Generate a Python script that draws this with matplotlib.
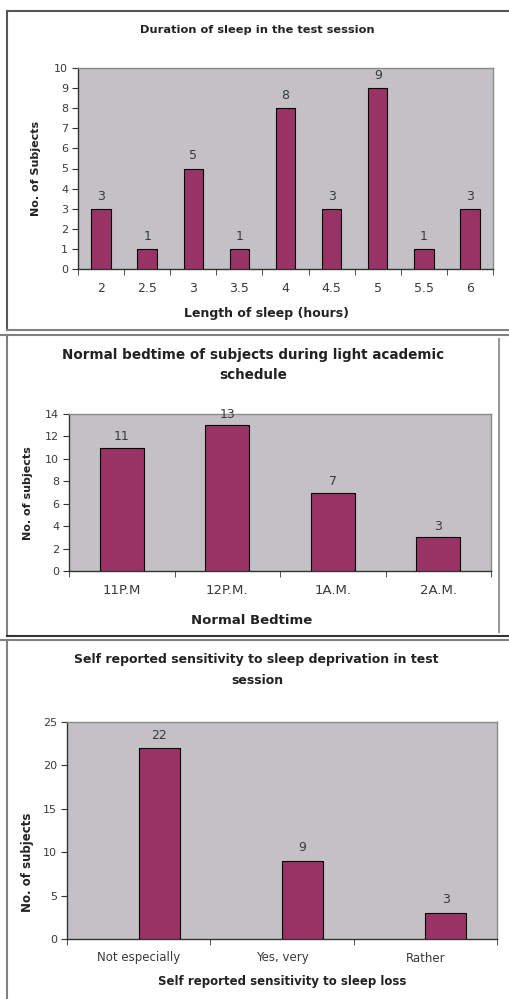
import matplotlib
matplotlib.use('agg')
import matplotlib.pyplot as plt
from matplotlib.lines import Line2D
import numpy as np

plt.rcParams['font.family'] = ['DejaVu Sans']

W, H = 509, 999

# chart data
sleep_hours = ["2", "2.5", "3", "3.5", "4", "4.5", "5", "5.5", "6"]
sleep_counts = [3, 1, 5, 1, 8, 3, 9, 1, 3]

bedtimes = ["11P.M", "12P.M.", "1A.M.", "2A.M."]
bedtime_counts = [11, 13, 7, 3]

sensitivity = ["Not especially", "Yes, very", "Rather"]
sensitivity_counts = [22, 9, 3]

BAR = '#993366'
BG = '#c3c1c5'
TXT = '#3a3a3a'
DARK = '#222222'


def px_rect(l, t, r, b):
    """pixel box (from top-left) to figure fraction rect"""
    return [l / W, 1 - b / H, (r - l) / W, (b - t) / H]


def fx(x):
    return x / W


def fy(y):
    return 1 - y / H


def hline(fig, x0, x1, y, color='#808080', lw=1.5):
    fig.add_artist(Line2D([fx(x0), fx(x1)], [fy(y), fy(y)], color=color, lw=lw,
                          transform=fig.transFigure))


def vline(fig, x, y0, y1, color='#808080', lw=1.5):
    fig.add_artist(Line2D([fx(x), fx(x)], [fy(y0), fy(y1)], color=color, lw=lw,
                          transform=fig.transFigure))


def bar_panel(fig, rect, labels, values, ymax, ystep, width, offset, fs_x, fs_y, fs_val):
    ax = fig.add_axes(rect)
    ax.set_facecolor(BG)
    x = np.arange(len(labels))
    ax.bar(x + offset, values, width=width, color=BAR, edgecolor='black', linewidth=0.8, zorder=3)
    for xi, v in zip(x, values):
        ax.text(xi + offset, v + ymax * 0.03, str(v), ha='center', va='bottom',
                fontsize=fs_val, color=TXT)
    ax.set_xlim(-0.5, len(labels) - 0.5)
    ax.set_ylim(0, ymax)
    ax.set_yticks(np.arange(0, ymax + 0.01, ystep))
    ax.set_xticks(x)
    ax.set_xticklabels(labels)
    ax.set_xticks(np.arange(-0.5, len(labels)), minor=True)
    ax.tick_params(axis='x', which='major', length=0, pad=9, labelsize=fs_x, labelcolor=TXT)
    ax.tick_params(axis='x', which='minor', length=4, direction='out', color='#333333')
    ax.tick_params(axis='y', length=4, width=0.8, direction='out', pad=3,
                   labelsize=fs_y, labelcolor=TXT, color='#333333')
    for s in ['top', 'right']:
        ax.spines[s].set_color('#8a8a8a')
        ax.spines[s].set_linewidth(1.0)
    for s in ['left', 'bottom']:
        ax.spines[s].set_color('#333333')
        ax.spines[s].set_linewidth(1.0)
    return ax


fig = plt.figure(figsize=(W / 100, H / 100), dpi=100)

# panel 1: duration of sleep
bar_panel(fig, px_rect(78, 68, 493, 269), sleep_hours, sleep_counts, 10, 1,
          0.42, 0.0, 9, 8, 9)
fig.text(fx(257), fy(30), "Duration of sleep in the test session", ha='center', va='center',
         fontsize=8.2, fontweight='bold', color=DARK)
fig.text(fx(266), fy(314), "Length of sleep (hours)", ha='center', va='center',
         fontsize=9, fontweight='bold', color=DARK)
fig.text(fx(36), fy(168), "No. of Subjects", ha='center', va='center', rotation=90,
         fontsize=8, fontweight='bold', color=DARK)

# panel 2: normal bedtime
bar_panel(fig, px_rect(69, 414, 491, 571), bedtimes, bedtime_counts, 14, 2,
          0.42, 0.0, 9.5, 8, 9)
fig.text(fx(253), fy(355), "Normal bedtime of subjects during light academic", ha='center',
         va='center', fontsize=9.75, fontweight='bold', color=DARK)
fig.text(fx(253), fy(375), "schedule", ha='center', va='center', fontsize=9.75,
         fontweight='bold', color=DARK)
fig.text(fx(252), fy(620), "Normal Bedtime", ha='center', va='center',
         fontsize=9.5, fontweight='bold', color=DARK)
fig.text(fx(28), fy(493), "No. of subjects", ha='center', va='center', rotation=90,
         fontsize=8, fontweight='bold', color=DARK)

# panel 3: self reported sensitivity (second series slot of the excel chart)
bar_panel(fig, px_rect(67, 722, 497, 939), sensitivity, sensitivity_counts, 25, 5,
          0.286, 0.143, 8.5, 8, 9)
fig.text(fx(256), fy(660), "Self reported sensitivity to sleep deprivation in test", ha='center',
         va='center', fontsize=9, fontweight='bold', color=DARK)
fig.text(fx(257), fy(680), "session", ha='center', va='center', fontsize=9,
         fontweight='bold', color=DARK)
fig.text(fx(282), fy(982), "Self reported sensitivity to sleep loss", ha='center', va='center',
         fontsize=8.5, fontweight='bold', color=DARK)
fig.text(fx(27), fy(862), "No. of subjects", ha='center', va='center', rotation=90,
         fontsize=8.5, fontweight='bold', color=DARK)

# frame lines around the three pasted charts
hline(fig, 7, 509, 11, '#555555')
vline(fig, 7, 11, 330, '#555555')
hline(fig, 7, 509, 329.5)
hline(fig, 0, 509, 335)
vline(fig, 7, 335, 636)
vline(fig, 498.5, 339, 632, '#999999')
hline(fig, 7, 509, 636, '#333333')
hline(fig, 0, 509, 640)
vline(fig, 7, 640, 999)

fig.savefig('out.png', dpi=100)
